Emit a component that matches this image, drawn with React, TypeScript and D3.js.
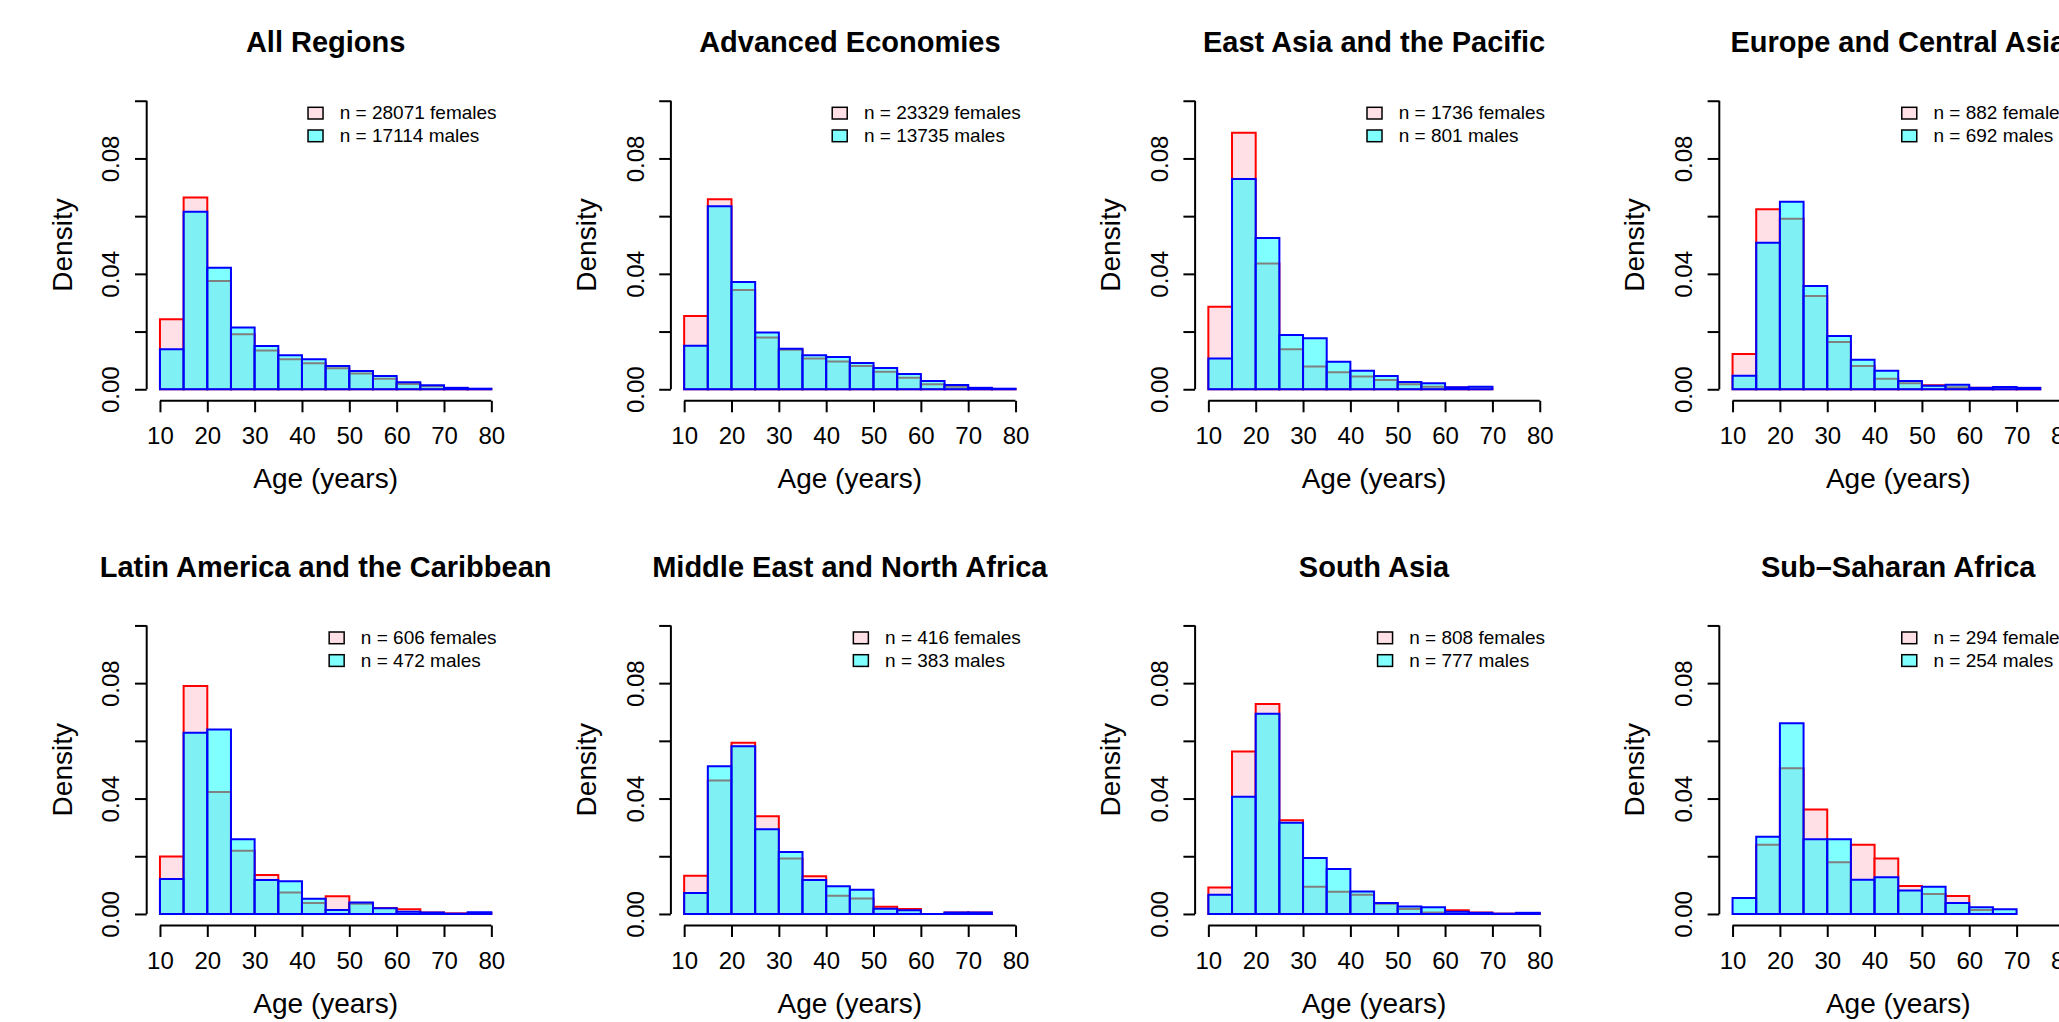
import React, { useEffect, useRef } from 'react'
import * as d3 from 'd3'

// age bins (years) and axis ticks
const breaks = [10, 15, 20, 25, 30, 35, 40, 45, 50, 55, 60, 65, 70, 75, 80]
const xTicks = [10, 20, 30, 40, 50, 60, 70, 80]
const yTicks = [0, 0.02, 0.04, 0.06, 0.08, 0.1]
const yTickLabels = ['0.00', '', '0.04', '', '0.08', '']

const regions = [
  'All Regions',
  'Advanced Economies',
  'East Asia and the Pacific',
  'Europe and Central Asia',
  'Latin America and the Caribbean',
  'Middle East and North Africa',
  'South Asia',
  'Sub\u2013Saharan Africa'
]
const femaleN = [28071, 23329, 1736, 882, 606, 416, 808, 294]
const maleN = [17114, 13735, 801, 692, 472, 383, 777, 254]

// densities per 5-year bin, starting at 10
const allF = [0.0243, 0.0665, 0.0375, 0.0191, 0.0134, 0.0104, 0.0090, 0.0073, 0.0055, 0.0036, 0.0018, 0.0010, 0.0003, 0.0001]
const allM = [0.0139, 0.0615, 0.0421, 0.0214, 0.0150, 0.0118, 0.0104, 0.0081, 0.0063, 0.0046, 0.0024, 0.0014, 0.0005, 0.0002]
const advF = [0.0254, 0.0659, 0.0344, 0.0179, 0.0137, 0.0107, 0.0096, 0.0081, 0.0061, 0.0040, 0.0017, 0.0009, 0.0003, 0.0001]
const advM = [0.0151, 0.0634, 0.0372, 0.0197, 0.0140, 0.0118, 0.0112, 0.0091, 0.0074, 0.0053, 0.0029, 0.0015, 0.0005, 0.0002]
const eapF = [0.0286, 0.0889, 0.0436, 0.0139, 0.0079, 0.0059, 0.0044, 0.0032, 0.0017, 0.0009, 0.0006, 0.0003]
const eapM = [0.0107, 0.0729, 0.0524, 0.0188, 0.0177, 0.0095, 0.0064, 0.0046, 0.0025, 0.0021, 0.0007, 0.0009]
const ecaF = [0.0122, 0.0624, 0.0591, 0.0323, 0.0164, 0.0081, 0.0036, 0.0021, 0.0014, 0.0007, 0.0005, 0.0005, 0.0003]
const ecaM = [0.0047, 0.0508, 0.0650, 0.0358, 0.0185, 0.0102, 0.0064, 0.0029, 0.0012, 0.0016, 0.0005, 0.0008, 0.0005]
const lacF = [0.0199, 0.0790, 0.0423, 0.0219, 0.0135, 0.0074, 0.0038, 0.0061, 0.0035, 0.0021, 0.0016, 0.0005, 0.0002, 0.0003]
const lacM = [0.0121, 0.0628, 0.0639, 0.0259, 0.0118, 0.0113, 0.0053, 0.0014, 0.0040, 0.0020, 0.0008, 0.0005, 0.0001, 0.0006]
const menaF = [0.0132, 0.0463, 0.0593, 0.0339, 0.0192, 0.0131, 0.0063, 0.0054, 0.0025, 0.0017, 0, 0.0005, 0.0005]
const menaM = [0.0073, 0.0512, 0.0581, 0.0294, 0.0215, 0.0118, 0.0096, 0.0084, 0.0018, 0.0013, 0, 0.0005, 0.0005]
const saF = [0.0092, 0.0563, 0.0728, 0.0325, 0.0094, 0.0077, 0.0067, 0.0035, 0.0017, 0.0005, 0.0013, 0.0005, 0.0001, 0.0002]
const saM = [0.0067, 0.0406, 0.0694, 0.0316, 0.0194, 0.0156, 0.0078, 0.0038, 0.0026, 0.0023, 0.0008, 0.0004, 0.0001, 0.0004]
const ssaF = [0, 0.0240, 0.0505, 0.0362, 0.0179, 0.0240, 0.0192, 0.0097, 0.0069, 0.0062, 0.0014, 0]
const ssaM = [0.0055, 0.0268, 0.0661, 0.0259, 0.0259, 0.0119, 0.0127, 0.0081, 0.0094, 0.0038, 0.0023, 0.0016]

const femaleDens = [allF, advF, eapF, ecaF, lacF, menaF, saF, ssaF]
const maleDens = [allM, advM, eapM, ecaM, lacM, menaM, saM, ssaM]

const W = 2059
const H = 1022
const font = '"Liberation Sans", Arial, Helvetica, sans-serif'
const colStep = 524.2
const rowStep = 524.7
// plot region inside one panel
const pl = 146.7
const pr = 504.6
const pt = 89.2
const pb = 400.8

export default function App () {
  const ref = useRef<SVGSVGElement>(null)

  useEffect(() => {
    const svg = d3.select(ref.current)
    svg.selectAll('*').remove()
    svg.append('rect').attr('width', W).attr('height', H).attr('fill', '#fff')

    regions.forEach((name, i) => {
      const col = i % 4
      const row = Math.floor(i / 4)
      const g = svg.append('g')
        .attr('transform', `translate(${col * colStep},${row * rowStep})`)
        .attr('font-family', font)

      const x = d3.scaleLinear().domain([7.2, 82.8]).range([pl, pr])
      const y = d3.scaleLinear().domain([-0.004, 0.104]).range([pb, pt])

      // paths rather than rects so empty bins still show as a line on the baseline
      const drawHist = (vals: number[], fill: string, stroke: string) => {
        g.append('g').selectAll('path').data(vals).join('path')
          .attr('d', (d, j) => {
            const x0 = x(breaks[j])
            const x1 = x(breaks[j + 1])
            return `M${x0},${y(0)}V${y(d)}H${x1}V${y(0)}Z`
          })
          .attr('fill', fill)
          .attr('stroke', stroke)
          .attr('stroke-width', 2)
      }
      drawHist(femaleDens[i], '#ffe0e6', '#ff0000')
      drawHist(maleDens[i], 'rgba(0,255,255,0.5)', '#0000ff')

      // x axis
      const gx = g.append('g').attr('transform', `translate(0,${pb})`)
        .call(d3.axisBottom(x).tickValues(xTicks).tickSize(11.5).tickSizeOuter(0))
      gx.select('.domain').remove()
      gx.append('line').attr('x1', x(10)).attr('x2', x(80)).attr('stroke', '#000')
      gx.attr('font-size', 24).attr('font-family', font).style('color', '#000')
      gx.selectAll('line').attr('stroke-width', 2)
      gx.selectAll('text').attr('y', 43).attr('dy', null).attr('fill', '#000')

      // y axis
      const gy = g.append('g').attr('transform', `translate(${pl},0)`)
        .call(d3.axisLeft(y).tickValues(yTicks).tickSize(11.7).tickSizeOuter(0)
          .tickFormat((d, k) => yTickLabels[k]))
      gy.select('.domain').remove()
      gy.append('line').attr('y1', y(0)).attr('y2', y(0.1)).attr('stroke', '#000')
      gy.attr('font-size', 24).attr('font-family', font).style('color', '#000')
      gy.selectAll('line').attr('stroke-width', 2)
      gy.selectAll('text')
        .attr('transform', 'rotate(-90)')
        .attr('x', 0).attr('y', -27.4).attr('dy', null)
        .attr('text-anchor', 'middle').attr('fill', '#000')

      // titles
      g.append('text')
        .attr('x', (pl + pr) / 2).attr('y', 52.3)
        .attr('text-anchor', 'middle').attr('font-weight', 'bold').attr('font-size', 29)
        .text(name)
      g.append('text')
        .attr('x', (pl + pr) / 2).attr('y', 488.3)
        .attr('text-anchor', 'middle').attr('font-size', 28)
        .text('Age (years)')
      g.append('text')
        .attr('transform', `translate(71.5,${(pt + pb) / 2}) rotate(-90)`)
        .attr('text-anchor', 'middle').attr('font-size', 28)
        .text('Density')

      // legend, top right
      const lg = g.append('g').attr('font-size', 19)
      const t1 = lg.append('text').text(`n = ${femaleN[i]} females`)
      const t2 = lg.append('text').text(`n = ${maleN[i]} males`)
      const wmax = Math.max(
        (t1.node() as SVGTextElement).getComputedTextLength(),
        (t2.node() as SVGTextElement).getComputedTextLength()
      )
      const tx = pr - 8 - wmax
      t1.attr('x', tx).attr('y', 119.3)
      t2.attr('x', tx).attr('y', 142)
      lg.append('rect').attr('x', tx - 31.7).attr('y', 107.3).attr('width', 15).attr('height', 11.7)
        .attr('fill', '#ffe0e6').attr('stroke', '#000').attr('stroke-width', 1.5)
      lg.append('rect').attr('x', tx - 31.7).attr('y', 130).attr('width', 15).attr('height', 11.7)
        .attr('fill', '#80ffff').attr('stroke', '#000').attr('stroke-width', 1.5)
    })
  }, [])

  return (
    <svg ref={ref} width={W} height={H} viewBox={`0 0 ${W} ${H}`}
      style={{ position: 'absolute', left: 0, top: 0 }} />
  )
}
